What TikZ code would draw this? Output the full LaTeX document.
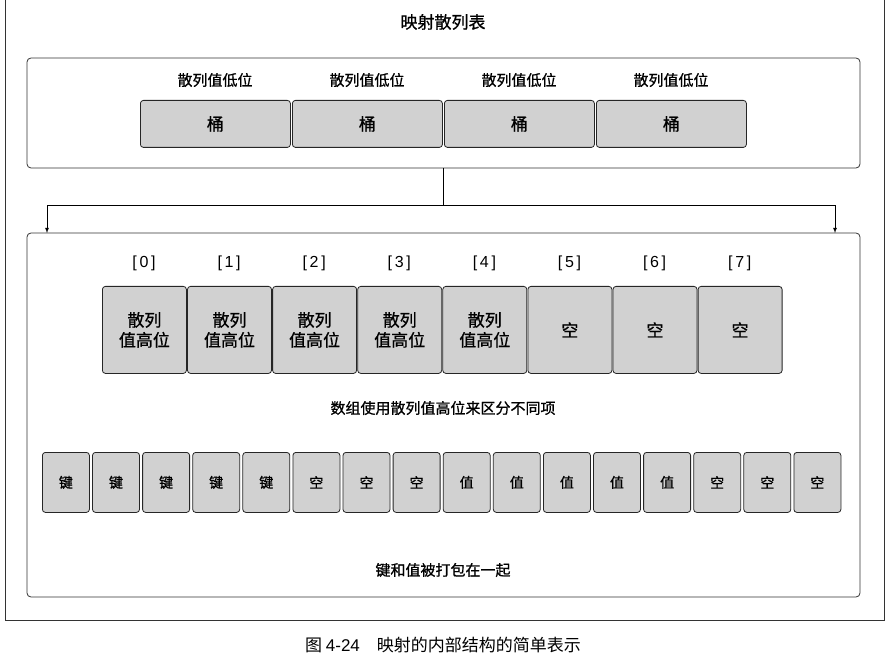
\documentclass[tikz,border=0pt]{standalone}
\usepackage{fontspec}
\setmainfont{Noto Sans CJK SC}[FakeBold=0.8,BoldFont={Noto Sans CJK SC}]
\newfontfamily\plaincjk{Noto Sans CJK SC}
\setsansfont{Liberation Sans}
\begin{document}
\begin{tikzpicture}[x=1pt,y=-1pt,
  frame/.style={draw=black!80,line width=0.8pt,rounded corners=4pt},
  cell/.style={draw=black!85,fill=black!18,line width=0.8pt,rounded corners=3pt,anchor=north west,inner sep=0pt,align=center},
  lbl/.style={font=\fontsize{15}{17}\selectfont}]
\useasboundingbox (0,0) rectangle (886,668);
\draw[line width=0.8pt,black!80] (5,0) -- (5,620) -- (884,620) -- (884,0);
\node[font=\fontsize{17}{19}\selectfont] (title) at (443,22) {映射散列表};
\draw[frame] (27,58) rectangle (860,168);
\coordinate (topb) at (443,168);
\foreach \i/\x in {0/140,1/292,2/444,3/596}{
  \node[lbl] (low\i) at (\x+75,80) {散列值低位};
  \node[cell,minimum width=150pt,minimum height=47pt,font=\fontsize{17}{19}\selectfont] (b\i) at (\x,100) {桶};
}
\draw[frame] (27,233) rectangle (860,597);
\coordinate (mid) at (443,205);
\coordinate (lft) at (47,205);
\coordinate (rgt) at (835,205);
\coordinate (lftb) at (47,233);
\coordinate (rgtb) at (835,233);
\draw[line width=0.8pt] (topb) -- (mid);
\draw[line width=0.8pt,-latex] (mid) -- (lft) -- (lftb);
\draw[line width=0.8pt,-latex] (mid) -- (rgt) -- (rgtb);
\foreach \i in {0,...,7}{
  \pgfmathsetmacro\xx{102+85.1*\i}
  \node[font=\sffamily\fontsize{16}{18}\selectfont] (idx\i) at (\xx+42,263) {[\,\i\,]};
}
\foreach \i in {0,...,4}{
  \pgfmathsetmacro\xx{102+85.1*\i}
  \node[cell,minimum width=84pt,minimum height=87pt,font=\fontsize{17}{20}\selectfont] (h\i) at (\xx,286) {散列\\值高位};
}
\foreach \i in {5,6,7}{
  \pgfmathsetmacro\xx{102+85.1*\i}
  \node[cell,minimum width=84pt,minimum height=87pt,font=\fontsize{17}{20}\selectfont] (h\i) at (\xx,286) {空};
}
\node[lbl] (cap1) at (443,408) {数组使用散列值高位来区分不同项};
\foreach \i/\t in {0/键,1/键,2/键,3/键,4/键,5/空,6/空,7/空,8/值,9/值,10/值,11/值,12/值,13/空,14/空,15/空}{
  \pgfmathsetmacro\xx{42+50.1*\i}
  \node[cell,minimum width=47pt,minimum height=60pt,font=\fontsize{14}{16}\selectfont] (k\i) at (\xx,452) {\t};
}
\node[lbl] (cap2) at (443,570) {键和值被打包在一起};
\node[font=\plaincjk\fontsize{17}{20}\selectfont] (fig) at (443,645) {图 \textsf{4-24}\quad 映射的内部结构的简单表示};
\end{tikzpicture}
\end{document}
